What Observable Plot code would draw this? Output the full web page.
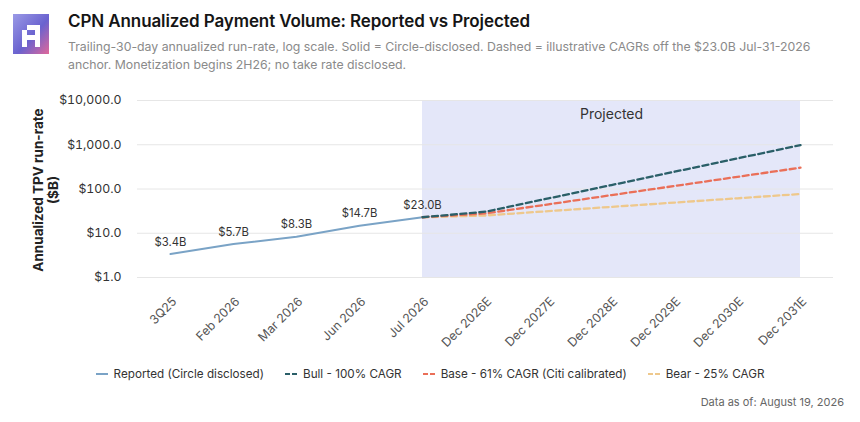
<!DOCTYPE html>
<html><head><meta charset="utf-8">
<script src="https://cdn.jsdelivr.net/npm/d3@7"></script>
<script src="https://cdn.jsdelivr.net/npm/@observablehq/plot@0.6"></script>
<style>
body{margin:0;background:#fff;font-family:Inter,"Noto Sans",sans-serif;width:860px;height:422px;position:relative;overflow:hidden}
#logo{position:absolute;left:13px;top:14px}
#title{position:absolute;left:68px;top:11px;font-size:17px;font-weight:600;color:#151515;letter-spacing:-0.1px}
#sub{position:absolute;left:68px;top:38px;font-size:12.3px;color:#8a8a8a;line-height:18px;width:790px}
#chart{position:absolute;left:0;top:88px}
#legend{position:absolute;top:367px;left:0;width:860px;display:flex;justify-content:center;gap:21px;font-size:11.7px;color:#333}
#legend span{display:flex;align-items:center;gap:6px}
#foot{position:absolute;right:16px;top:395px;font-size:11px;color:#666}
</style></head>
<body>
<svg id="logo" width="36" height="40" viewBox="0 0 36 40">
  <defs><linearGradient id="lg" x1="0" y1="0" x2="1" y2="1">
    <stop offset="0" stop-color="#9a9ae6"/><stop offset="0.55" stop-color="#6a62cf"/><stop offset="1" stop-color="#e0689a"/></linearGradient></defs>
  <rect width="36" height="40" fill="url(#lg)"/>
  <path d="M9 33 V16 H14 V11 H27 V33 H22 V26 H14 V33 Z M14 21 H22 V16 H14 Z" fill="#fff" fill-rule="evenodd"/>
</svg>
<div id="title">CPN Annualized Payment Volume: Reported vs Projected</div>
<div id="sub">Trailing-30-day annualized run-rate, log scale. Solid = Circle-disclosed. Dashed = illustrative CAGRs off the $23.0B Jul-31-2026<br>anchor. Monetization begins 2H26; no take rate disclosed.</div>
<div id="chart"></div>
<div id="legend"></div>
<div id="foot">Data as of: August 19, 2026</div>
<script>
const categories = ["3Q25","Feb 2026","Mar 2026","Jun 2026","Jul 2026","Dec 2026E","Dec 2027E","Dec 2028E","Dec 2029E","Dec 2030E","Dec 2031E"];
const reportedPeriods = ["3Q25","Feb 2026","Mar 2026","Jun 2026","Jul 2026"];
const reportedValues = [3.4, 5.7, 8.3, 14.7, 23.0];
const projPeriods = ["Jul 2026","Dec 2026E","Dec 2027E","Dec 2028E","Dec 2029E","Dec 2030E","Dec 2031E"];
const bullValues = [23.0, 30.7, 61.4, 122.8, 245.6, 491.2, 982.4];
const baseValues = [23.0, 28.0, 45.1, 72.7, 117.0, 188.3, 303.2];
const bearValues = [23.0, 25.2, 31.6, 39.5, 49.3, 61.7, 77.1];
const yTicks = [1, 10, 100, 1000, 10000];
const seriesNames = ["Reported (Circle disclosed)","Bull - 100% CAGR","Base - 61% CAGR (Citi calibrated)","Bear - 25% CAGR"];
const seriesColors = ["#7aa3c6","#2a5f68","#ea6f58","#eec88c"];
const projectedRange = {from:"Jul 2026", to:"Dec 2031E", label:"Projected", labelAt:"Dec 2028E"};

const reported = reportedPeriods.map((p,i)=>({period:p, value:reportedValues[i]}));
const proj = (vals)=>projPeriods.map((p,i)=>({period:p, value:vals[i]}));
const bull = proj(bullValues), base = proj(baseValues), bear = proj(bearValues);
const fmt = d3.format(",.1f");

const chart = Plot.plot({
  width: 860, height: 270,
  marginLeft: 137, marginRight: 27, marginTop: 12, marginBottom: 81,
  style: {fontFamily: "Inter, 'Noto Sans', sans-serif", fontSize: "12px", color: "#444", background: "transparent", overflow: "visible"},
  x: {type: "point", domain: categories, padding: 0.5, label: null},
  y: {type: "log", domain: [1, 10000], label: null},
  marks: [
    Plot.rect([projectedRange], {x1: "from", x2: "to", y1: () => 1, y2: () => 10000, fill: "#e4e7f9"}),
    Plot.gridY(yTicks, {stroke: "#e6e6e6", strokeOpacity: 1}),
    Plot.axisY(yTicks, {tickSize: 0, tickPadding: 16, tickFormat: d => "$" + fmt(d), fill: "#333", fontSize: 12.3}),
    Plot.axisX({tickSize: 0, tickPadding: 22, dx: 4, tickRotate: -45, fill: "#555", fontSize: 12.3}),
    Plot.text([projectedRange], {x: "labelAt", frameAnchor: "top", dy: 9, text: "label", fontSize: 14, fill: "#333"}),
    Plot.text(["Annualized TPV run-rate\n($B)"], {frameAnchor: "left", textAnchor: "middle", dx: -92, dy: 1, rotate: -90, text: d => d, fontSize: 13.5, fontWeight: "bold", fill: "#222", lineHeight: 1.1}),
    Plot.line(reported, {x: "period", y: "value", stroke: seriesColors[0], strokeWidth: 2}),
    Plot.line(bear, {x: "period", y: "value", stroke: seriesColors[3], strokeWidth: 2.3, strokeDasharray: "6,3.5"}),
    Plot.line(base, {x: "period", y: "value", stroke: seriesColors[2], strokeWidth: 2.3, strokeDasharray: "6,3.5"}),
    Plot.line(bull, {x: "period", y: "value", stroke: seriesColors[1], strokeWidth: 2.3, strokeDasharray: "6,3.5"}),
    Plot.text(reported, {x: "period", y: "value", text: d => "$" + d.value.toFixed(1) + "B", dy: -12, fontSize: 11.3, fill: "#333"})
  ]
});
document.getElementById("chart").appendChild(chart);

const legend = document.getElementById("legend");
seriesNames.forEach((name, i) => {
  const s = document.createElement("span");
  const dash = i === 0 ? "" : ' stroke-dasharray="5,2"';
  s.innerHTML = `<svg width="12" height="6"><line x1="0" y1="3" x2="12" y2="3" stroke="${seriesColors[i]}" stroke-width="2"${dash}/></svg>${name}`;
  legend.appendChild(s);
});
</script>
</body></html>
